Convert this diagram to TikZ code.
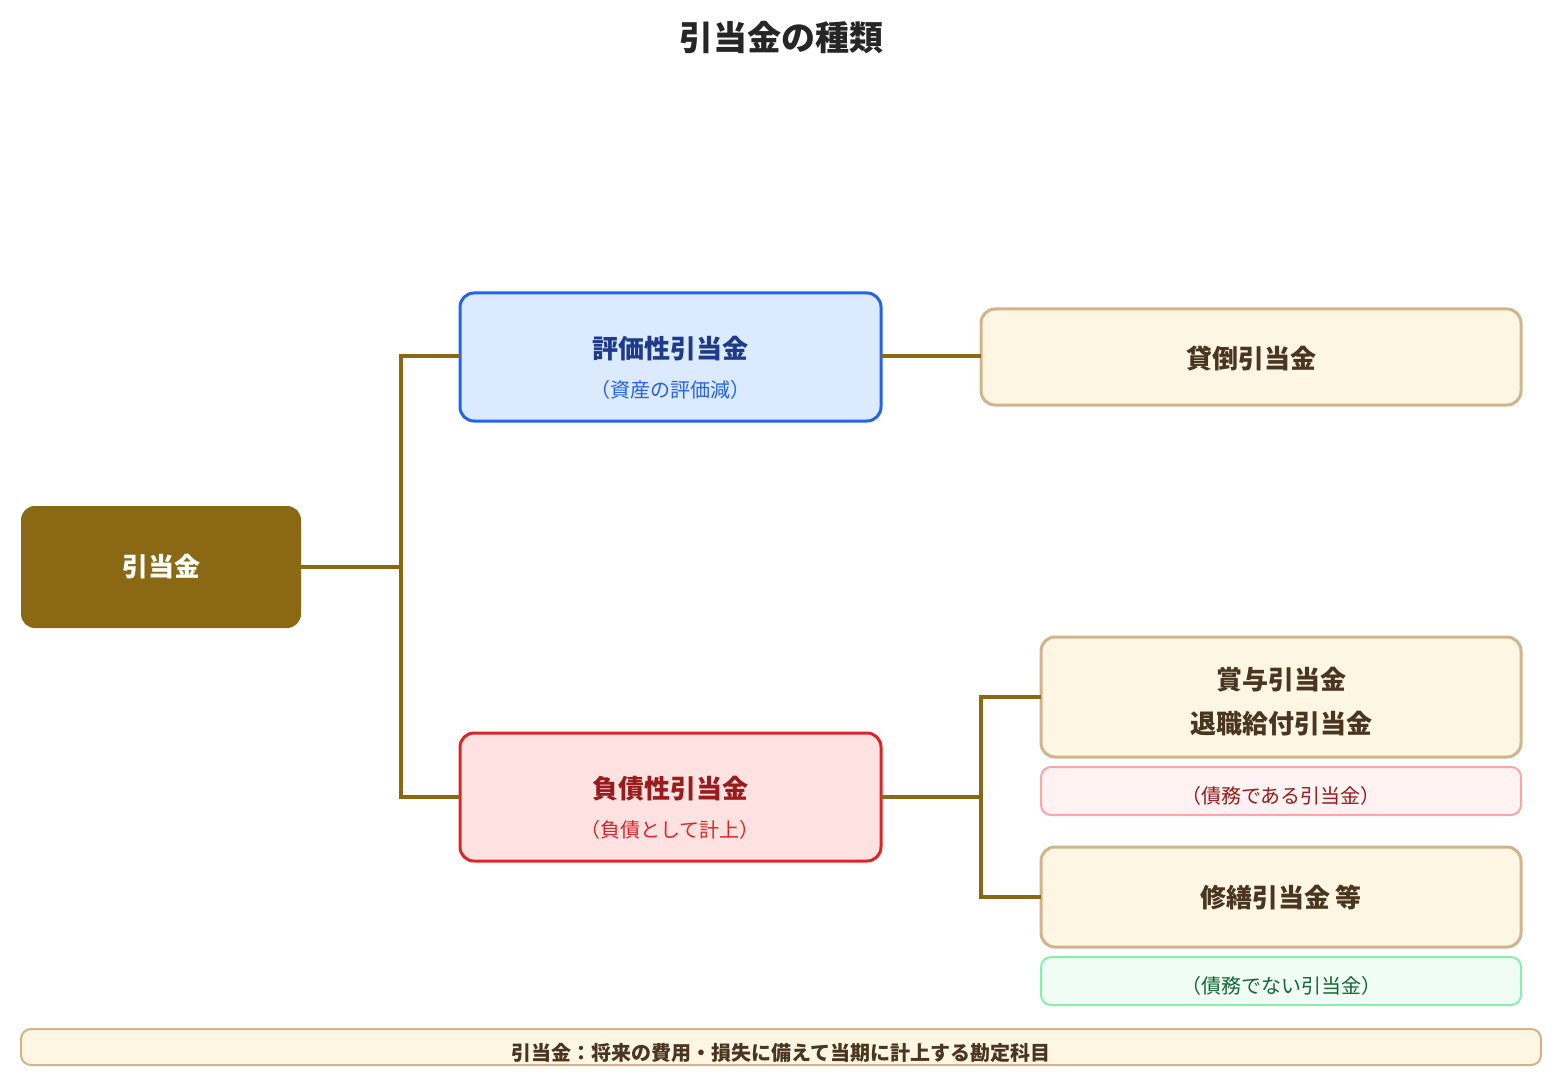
\documentclass[tikz,border=0pt]{standalone}
\usepackage{fontspec}
\setmainfont{Noto Sans CJK JP}
\definecolor{brn}{HTML}{8B6914}
\definecolor{bluef}{HTML}{DBEAFE}\definecolor{blued}{HTML}{2563EB}\definecolor{bluet}{HTML}{1E3A8A}
\definecolor{redf}{HTML}{FEE2E2}\definecolor{redd}{HTML}{DC2626}\definecolor{redt}{HTML}{991B1B}
\definecolor{cream}{HTML}{FDF6E3}\definecolor{tan}{HTML}{D2B48C}\definecolor{dtext}{HTML}{4A3520}
\definecolor{pinkf}{HTML}{FEF2F2}\definecolor{pinkd}{HTML}{FCA5A5}
\definecolor{greenf}{HTML}{F0FDF4}\definecolor{greend}{HTML}{86EFAC}\definecolor{greent}{HTML}{166534}
\begin{document}
\begin{tikzpicture}[x=0.5pt,y=-0.5pt,
 box/.style={rounded corners=7pt,line width=1.5pt},
 conn/.style={draw=brn,line width=1.6pt},
 big/.style={font=\fontsize{13}{15}\selectfont\bfseries},
 small/.style={font=\fontsize{10}{12}\selectfont}]
\useasboundingbox (0,0) rectangle (1561,1085);
\node[font=\fontsize{17}{20}\selectfont\bfseries,text=black!85] (title) at (781,38) {引当金の種類};
% root
\draw[fill=brn,rounded corners=7pt,draw=none] (21,506) rectangle (301,628);
\node[big,text=white] (root) at (161,567) {引当金};
\coordinate (rootR) at (301,567);
% eval
\draw[box,fill=bluef,draw=blued] (460,293) rectangle (881,421);
\node[big,text=bluet] (ev) at (670,349) {評価性引当金};
\node[small,text=blued] (evs) at (670,390) {（資産の評価減）};
\coordinate (evL) at (460,356); \coordinate (evR) at (881,356);
% liab
\draw[box,fill=redf,draw=redd] (460,733) rectangle (881,861);
\node[big,text=redt] (li) at (670,789) {負債性引当金};
\node[small,text=redd] (lis) at (670,830) {（負債として計上）};
\coordinate (liL) at (460,797); \coordinate (liR) at (881,797);
% right boxes
\draw[box,fill=cream,draw=tan] (981,309) rectangle (1521,405);
\node[big,text=dtext] (kd) at (1251,359) {貸倒引当金};
\coordinate (kdL) at (981,356);
\draw[box,fill=cream,draw=tan] (1041,637) rectangle (1521,757);
\node[big,text=dtext] (sy) at (1281,680) {賞与引当金};
\node[big,text=dtext] (ts) at (1281,724) {退職給付引当金};
\coordinate (syL) at (1041,697);
\draw[box,line width=1pt,rounded corners=5pt,fill=pinkf,draw=pinkd] (1041,767) rectangle (1521,815);
\node[small,text=redt] (dr) at (1281,796) {（債務である引当金）};
\draw[box,fill=cream,draw=tan] (1041,847) rectangle (1521,947);
\node[big,text=dtext] (sz) at (1281,897) {修繕引当金 等};
\coordinate (szL) at (1041,897);
\draw[box,line width=1pt,rounded corners=5pt,fill=greenf,draw=greend] (1041,957) rectangle (1521,1005);
\node[small,text=greent] (dn) at (1281,986) {（債務でない引当金）};
% bottom
\draw[box,line width=1pt,rounded corners=5pt,fill=cream,draw=tan] (21,1029) rectangle (1541,1065);
\node[small,font=\fontsize{10}{12}\selectfont\bfseries,text=dtext] (note) at (781,1053) {引当金：将来の費用・損失に備えて当期に計上する勘定科目};
% connectors
\draw[conn] (rootR) -- (401,567);
\draw[conn] (evL) -| (401,567) |- (liL);
\draw[conn] (evR) -- (kdL);
\draw[conn] (liR) -- (981,797);
\draw[conn] (syL) -| (981,797) |- (szL);
\end{tikzpicture}
\end{document}
